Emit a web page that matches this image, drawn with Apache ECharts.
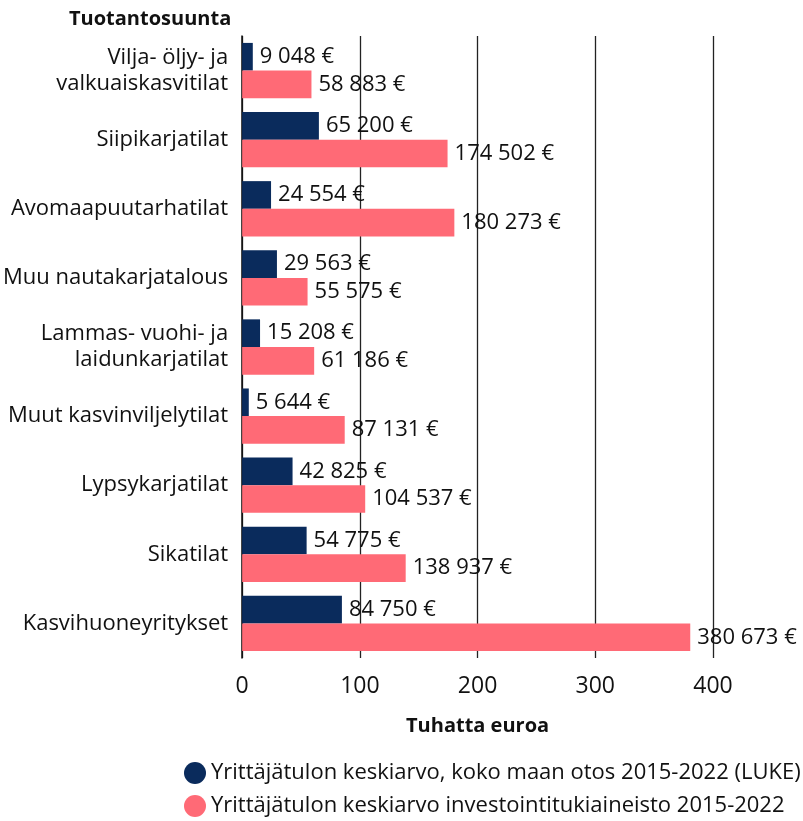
<!DOCTYPE html>
<html>
<head>
<meta charset="utf-8">
<script src="https://cdn.jsdelivr.net/npm/echarts@6/dist/echarts.min.js"></script>
<style>
  html, body { margin: 0; padding: 0; background: #fff; }
  #chart { width: 803px; height: 821px; }
</style>
</head>
<body>
<div id="chart"></div>
<script>
// tuotantosuunnat ylhäältä alas
var categories = ["Vilja- öljy- ja\nvalkuaiskasvitilat", "Siipikarjatilat", "Avomaapuutarhatilat",
    "Muu nautakarjatalous", "Lammas- vuohi- ja\nlaidunkarjatilat", "Muut kasvinviljelytilat",
    "Lypsykarjatilat", "Sikatilat", "Kasvihuoneyritykset"];

// yrittäjätulo euroina
var lukeValues = [9048, 65200, 24554, 29563, 15208, 5644, 42825, 54775, 84750];
var tukiValues = [58883, 174502, 180273, 55575, 61186, 87131, 104537, 138937, 380673];

var seriesNames = ["Yrittäjätulon keskiarvo, koko maan otos 2015-2022 (LUKE)",
    "Yrittäjätulon keskiarvo investointitukiaineisto 2015-2022"];
var xTicks = [0, 100, 200, 300, 400];

var font = "Open Sans";
var chart = echarts.init(document.getElementById("chart"));

// euro -> tuhatta euroa
function toThousands(arr) {
    var out = [];
    for (var i = 0; i < arr.length; i++) {
        out.push(arr[i] / 1000);
    }
    return out;
}

// 9048 -> "9 048 €"
function euroLabel(p) {
    var v = Math.round(p.value * 1000);
    return String(v).replace(/\B(?=(\d{3})+(?!\d))/g, " ") + " €";
}

var labelStyle = {
    show: true,
    position: "right",
    distance: 7,
    color: "#111",
    fontFamily: font,
    fontSize: 22,
    formatter: euroLabel
};

chart.setOption({
    animation: false,
    textStyle: { fontFamily: font },
    title: {
        text: "Tuotantosuunta",
        left: 64,
        top: 4,
        textStyle: { fontFamily: font, fontSize: 20, fontWeight: "bold", color: "#111" }
    },
    grid: { left: 242, right: 90, top: 36, bottom: 163, containLabel: false },
    legend: {
        orient: "vertical",
        left: 184,
        top: 762,
        padding: 0,
        icon: "circle",
        itemWidth: 22,
        itemHeight: 22,
        itemGap: 11,
        textStyle: { fontFamily: font, fontSize: 22, color: "#111" },
        data: seriesNames
    },
    xAxis: {
        type: "value",
        min: xTicks[0],
        max: xTicks[xTicks.length - 1],
        interval: 100,
        name: "Tuhatta euroa",
        nameLocation: "middle",
        nameGap: 58,
        nameTextStyle: { fontFamily: font, fontSize: 20, fontWeight: "bold", color: "#111" },
        axisLine: { show: false },
        axisTick: { show: false },
        axisLabel: { fontFamily: font, fontSize: 23, color: "#111", margin: 17 },
        splitLine: { show: true, lineStyle: { color: "#222", width: 1.3 } }
    },
    yAxis: {
        type: "category",
        inverse: true,
        data: categories,
        axisLine: { show: true, lineStyle: { color: "#111", width: 1.5 } },
        axisTick: { show: false },
        axisLabel: { fontFamily: font, fontSize: 22, color: "#111", margin: 14, lineHeight: 26, align: "right" }
    },
    series: [
        {
            name: seriesNames[0],
            type: "bar",
            data: toThousands(lukeValues),
            itemStyle: { color: "#0a2b5c" },
            barGap: "0%",
            barCategoryGap: "20%",
            label: labelStyle
        },
        {
            name: seriesNames[1],
            type: "bar",
            data: toThousands(tukiValues),
            itemStyle: { color: "#ff6a76" },
            label: labelStyle
        }
    ]
});
</script>
</body>
</html>
